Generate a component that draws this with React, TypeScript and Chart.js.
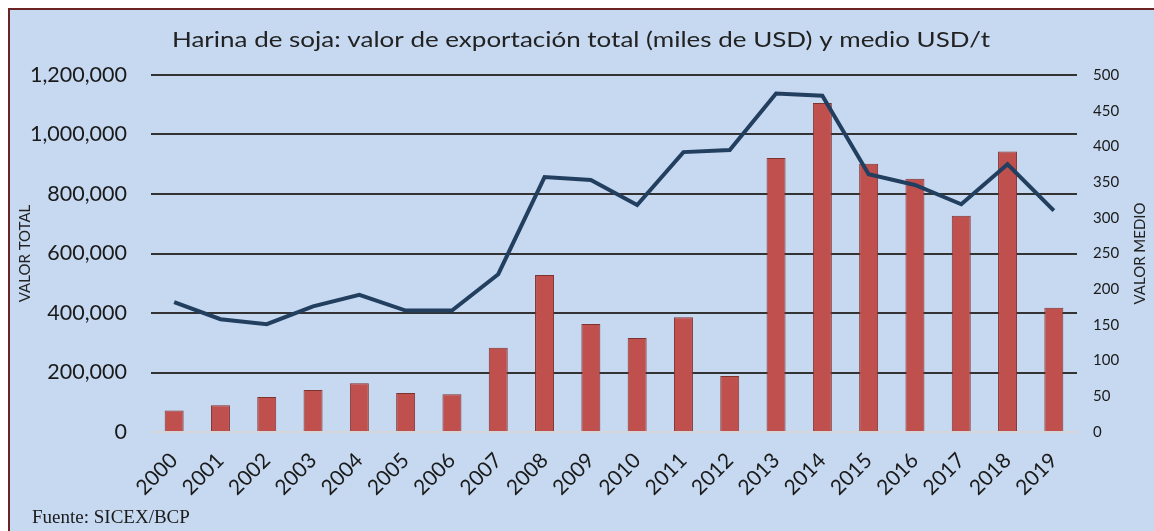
import React, { useEffect, useRef } from "react";
import { Chart, registerables } from "chart.js";

Chart.register(...registerables);

const years = ["2000", "2001", "2002", "2003", "2004", "2005", "2006", "2007", "2008", "2009", "2010", "2011", "2012", "2013", "2014", "2015", "2016", "2017", "2018", "2019"];
const valorTotal = [72000, 90000, 118000, 141000, 164000, 131000, 127000, 283000, 528000, 363000, 316000, 386000, 188000, 921000, 1106000, 902000, 851000, 727000, 943000, 418000];
const valorMedio = [182, 158, 151, 176, 192, 170, 170, 221, 357, 353, 318, 392, 395, 474, 471, 361, 346, 319, 375, 310];
const leftMax = 1200000;
const leftStep = 200000;
const rightMax = 500;
const rightStep = 50;

const titleText = "Harina de soja: valor de exportación total (miles de USD) y medio USD/t";
const leftTitle = "VALOR TOTAL";
const rightTitle = "VALOR MEDIO";
const sourceText = "Fuente: SICEX/BCP";

const W = 1144;
const H = 521;
const SANS = "Lato, 'Open Sans', sans-serif";

export default function App() {
  const ref = useRef<HTMLCanvasElement | null>(null);
  useEffect(() => {
    if (!ref.current) return;
    const textPlugin = {
      id: "texts",
      afterDraw(chart: any) {
        const ctx = chart.ctx;
        const area = chart.chartArea;
        ctx.save();
        ctx.fillStyle = "#222222";
        ctx.textAlign = "center";
        ctx.textBaseline = "alphabetic";
        ctx.font = `22px ${SANS}`;
        const tw = ctx.measureText(titleText).width;
        const sx = 818 / tw;
        ctx.save();
        ctx.translate(W / 2 - 1, 37);
        ctx.scale(sx, 1);
        ctx.fillText(titleText, 0, 0);
        ctx.restore();
        ctx.font = `15px ${SANS}`;
        ctx.textBaseline = "middle";
        const cy = (area.top + area.bottom) / 2;
        ctx.save();
        ctx.translate(15, cy);
        ctx.rotate(-Math.PI / 2);
        ctx.fillText(leftTitle, 0, 0);
        ctx.restore();
        ctx.save();
        ctx.translate(1130, cy);
        ctx.rotate(-Math.PI / 2);
        ctx.fillText(rightTitle, 0, 0);
        ctx.restore();
        ctx.textAlign = "left";
        ctx.textBaseline = "alphabetic";
        ctx.fillStyle = "#1a1a1a";
        ctx.font = `19px 'Liberation Serif', 'Times New Roman', serif`;
        ctx.fillText(sourceText, 22, 513);
        ctx.restore();
      },
    };
    const chart = new Chart(ref.current, {
      type: "bar",
      data: {
        labels: years,
        datasets: [
          {
            type: "line",
            label: "Valor medio",
            data: valorMedio,
            yAxisID: "y1",
            borderColor: "#233f5f",
            borderWidth: 4,
            pointRadius: 0,
            tension: 0,
            fill: false,
            order: 0,
          } as any,
          {
            type: "bar",
            label: "Valor total",
            data: valorTotal,
            yAxisID: "y",
            backgroundColor: "#c0504d",
            borderColor: "#7e3331",
            borderWidth: 1,
            categoryPercentage: 1,
            barPercentage: 0.41,
            order: 1,
          },
        ],
      },
      options: {
        responsive: false,
        animation: false,
        layout: { padding: { left: 0, right: 0, top: 65, bottom: 0 } },
        plugins: {
          legend: { display: false },
          title: { display: false },
          tooltip: { enabled: false },
        },
        scales: {
          x: {
            grid: { display: false, drawTicks: false },
            border: { display: false },
            ticks: {
              minRotation: 45,
              maxRotation: 45,
              padding: 16,
              color: "#1a1a1a",
              font: { family: SANS, size: 21 },
            },
            afterFit(scale: any) {
              scale.height = 99;
            },
          },
          y: {
            position: "left",
            min: 0,
            max: leftMax,
            grid: {
              drawTicks: false,
              lineWidth: 2,
              color: (c: any) => (c.tick && c.tick.value === 0 ? "#d6d6d6" : "#333333"),
            },
            border: { display: false },
            ticks: {
              stepSize: leftStep,
              padding: 24,
              color: "#1a1a1a",
              font: { family: SANS, size: 21.5 },
              callback: (v: any) => Number(v).toLocaleString("en-US"),
            },
            afterFit(scale: any) {
              scale.width = 141;
            },
          },
          y1: {
            position: "right",
            min: 0,
            max: rightMax,
            grid: { display: false, drawTicks: false },
            border: { display: false },
            ticks: {
              stepSize: rightStep,
              padding: 16,
              color: "#1a1a1a",
              font: { family: SANS, size: 15 },
            },
            afterFit(scale: any) {
              scale.width = 77;
            },
          },
        },
      },
      plugins: [textPlugin],
    } as any);
    return () => chart.destroy();
  }, []);
  return (
    <div
      style={{
        position: "fixed",
        left: 8,
        top: 8,
        width: 1146,
        height: 523,
        boxSizing: "border-box",
        borderTop: "2px solid #6b2323",
        borderLeft: "2px solid #6b2323",
        background: "#c6d9f1",
        overflow: "hidden",
      }}
    >
      <canvas ref={ref} width={W} height={H} style={{ display: "block", width: W, height: H }} />
    </div>
  );
}
